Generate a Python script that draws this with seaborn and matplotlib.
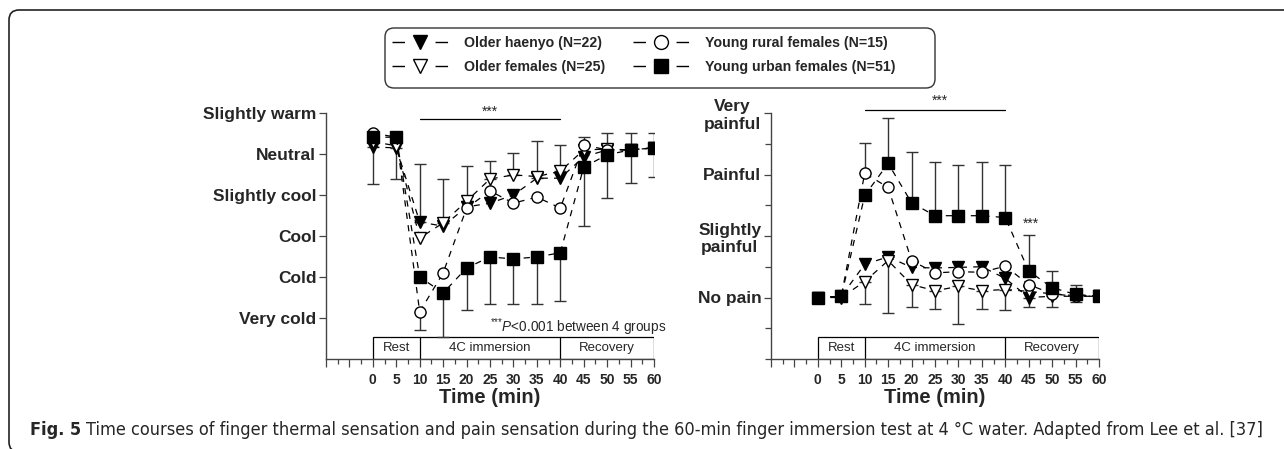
import numpy as np
import pandas as pd
import matplotlib
matplotlib.use("Agg")
import matplotlib.pyplot as plt
import seaborn as sns
from matplotlib.lines import Line2D
from matplotlib.patches import Rectangle, FancyBboxPatch
from matplotlib.transforms import IdentityTransform
from matplotlib.ticker import MultipleLocator, FuncFormatter

# --- data (time in min, scores on each scale) ---
times = [0, 5, 10, 15, 20, 25, 30, 35, 40, 45, 50, 55, 60]
groups = ["Older haenyo (N=22)", "Older females (N=25)",
          "Young rural females (N=15)", "Young urban females (N=51)"]

# thermal sensation: 0=Very cold ... 5=Slightly warm
thermal_haenyo = [4.17, 4.15, 2.34, 2.24, 2.71, 2.80, 3.00, 3.41, 3.41, 3.93, 4.10, 4.10, 4.15]
thermal_older = [4.30, 4.20, 1.95, 2.32, 2.85, 3.39, 3.49, 3.45, 3.58, 4.10, 4.12, 4.10, 4.15]
thermal_rural = [4.51, 4.41, 0.15, 1.10, 2.68, 3.10, 2.80, 2.95, 2.68, 4.22, 4.10, 4.10, 4.15]
thermal_urban = [4.41, 4.41, 1.00, 0.61, 1.22, 1.49, 1.44, 1.49, 1.59, 3.68, 3.98, 4.10, 4.15]
nan = np.nan
thermal_up = {
    "Older haenyo (N=22)": [nan, nan, 1.42, nan, nan, nan, nan, 0.91, nan, nan, nan, nan, nan],
    "Older females (N=25)": [nan, nan, nan, 1.07, 0.86, 0.44, 0.53, nan, 0.64, nan, nan, nan, nan],
    "Young rural females (N=15)": [nan, nan, nan, nan, nan, nan, nan, nan, nan, 0.19, 0.41, 0.41, 0.36],
}
thermal_dn = {
    "Older haenyo (N=22)": [0.90, 0.76, nan, nan, nan, nan, nan, nan, nan, nan, nan, nan, nan],
    "Young rural females (N=15)": [nan, nan, 0.45, nan, nan, nan, nan, nan, nan, nan, nan, nan, nan],
    "Young urban females (N=51)": [nan, nan, nan, 1.07, 1.02, 1.15, 1.10, 1.15, 1.18, 1.44, 1.05, 0.81, 0.71],
}
thermal_labels = ["Very cold", "Cold", "Cool", "Slightly cool", "Neutral", "Slightly warm"]

# pain sensation: 0=No pain ... 3=Very painful
pain_haenyo = [0.00, 0.02, 0.54, 0.66, 0.49, 0.48, 0.49, 0.50, 0.31, 0.00, 0.02, 0.02, 0.02]
pain_older = [0.00, 0.00, 0.26, 0.60, 0.21, 0.11, 0.18, 0.11, 0.13, 0.10, 0.06, 0.03, 0.02]
pain_rural = [0.00, 0.02, 2.02, 1.79, 0.60, 0.40, 0.42, 0.41, 0.51, 0.21, 0.06, 0.02, 0.02]
pain_urban = [0.00, 0.02, 1.66, 2.18, 1.54, 1.33, 1.33, 1.33, 1.30, 0.43, 0.16, 0.05, 0.02]
pain_up = {
    "Young rural females (N=15)": [nan, nan, 0.50, nan, nan, nan, nan, nan, nan, nan, nan, nan, nan],
    "Young urban females (N=51)": [nan, nan, nan, 0.74, 0.82, 0.87, 0.82, 0.87, 0.85, 0.59, 0.27, 0.16, 0.11],
}
pain_dn = {
    "Older haenyo (N=22)": [nan, nan, nan, 0.91, nan, nan, nan, nan, nan, 0.16, 0.18, 0.10, nan],
    "Older females (N=25)": [nan, nan, 0.36, nan, 0.37, 0.29, 0.61, 0.29, 0.34, nan, nan, nan, nan],
}
pain_labels = ["No pain", "Slightly\npainful", "Painful", "Very\npainful"]

phases = ["Rest", "4C immersion", "Recovery"]
phase_edges = [0, 10, 40, 60]

# --- style ---
sns.set_theme(style="ticks")
plt.rcParams["font.family"] = ["Liberation Sans", "DejaVu Sans"]
plt.rcParams["mathtext.fontset"] = "custom"
plt.rcParams["mathtext.rm"] = "Liberation Sans"
plt.rcParams["mathtext.it"] = "Liberation Sans:italic"

marker_of = dict(zip(groups, ["v", "v", "o", "s"]))
face_of = dict(zip(groups, ["black", "white", "white", "black"]))
dash = (0, (5, 5))

fig = plt.figure(figsize=(12.84, 4.49), dpi=100)
W, H = 1284, 449
ax1 = fig.add_axes([326 / W, 1 - 359 / H, 328 / W, 246 / H])
ax2 = fig.add_axes([771 / W, 1 - 359 / H, 328 / W, 246 / H])


def draw_panel(ax, table, up, dn):
    for g in groups:
        y = np.array(table[g], dtype=float)
        t = np.array(times, dtype=float)
        for errs, side in ((up, "up"), (dn, "dn")):
            if g not in errs:
                continue
            e = np.array(errs[g], dtype=float)
            m = ~np.isnan(e)
            yerr = [np.zeros(m.sum()), e[m]] if side == "up" else [e[m], np.zeros(m.sum())]
            ax.errorbar(t[m], y[m], yerr=yerr, fmt="none", ecolor="#333333",
                        elinewidth=1.0, capsize=4, capthick=1.0, zorder=2)
        sns.lineplot(x=times, y=table[g], ax=ax, color="black", marker=marker_of[g],
                     markerfacecolor=face_of[g], markeredgecolor="black",
                     markeredgewidth=1.0, markersize=8, linestyle=dash,
                     linewidth=0.9, errorbar=None, legend=False, zorder=3)


def style_axis(ax):
    sns.despine(ax=ax)
    for s in ("left", "bottom"):
        ax.spines[s].set_color("#444444")
        ax.spines[s].set_linewidth(1.0)
    ax.set_xlim(-10, 60)
    ax.xaxis.set_major_locator(MultipleLocator(5))
    ax.xaxis.set_minor_locator(MultipleLocator(2.5))
    ax.xaxis.set_major_formatter(FuncFormatter(lambda v, _: f"{int(v)}" if v >= 0 else ""))
    ax.tick_params(axis="x", which="major", length=6, width=0.9, color="#444444",
                   labelsize=10, pad=4)
    ax.tick_params(axis="x", which="minor", length=3.5, width=0.9, color="#444444")
    ax.tick_params(axis="y", which="major", length=5, width=0.9, color="#444444",
                   labelsize=12.5, pad=2)
    ax.tick_params(axis="y", which="minor", length=4, width=0.9, color="#444444")
    for lab in ax.get_xticklabels() + ax.get_yticklabels():
        lab.set_fontweight("bold")
    ax.set_xlabel("Time (min)", fontsize=14.5, fontweight="bold", labelpad=1)
    ax.set_ylabel("")
    # phase band along the time axis
    tr = ax.get_xaxis_transform()
    ax.add_patch(Rectangle((phase_edges[0], 0), phase_edges[-1] - phase_edges[0], 22 / 246,
                           transform=tr, fill=False, edgecolor="black", lw=0.9, zorder=1))
    for x in phase_edges[1:-1]:
        ax.plot([x, x], [0, 22 / 246], transform=tr, color="black", lw=0.9, zorder=1)
    for name, a, b in zip(phases, phase_edges[:-1], phase_edges[1:]):
        ax.text((a + b) / 2, 11 / 246, name, transform=tr, ha="center", va="center",
                fontsize=9.5)


# left: thermal sensation
thermal = dict(zip(groups, [thermal_haenyo, thermal_older, thermal_rural, thermal_urban]))
draw_panel(ax1, thermal, thermal_up, thermal_dn)
ax1.set_ylim(-1, 5)
ax1.set_yticks(range(len(thermal_labels)))
ax1.set_yticklabels(thermal_labels)
style_axis(ax1)
ax1.plot([10, 40], [4.85, 4.85], color="black", lw=0.9, clip_on=False)
ax1.text(25, 4.87, "***", ha="center", va="bottom", fontsize=10)
ax1.text(62.6, -0.22, r"$^{{*}{*}{*}}\mathit{P}$<0.001 between 4 groups", ha="right",
         va="center", fontsize=9.8, clip_on=False)

# right: pain sensation
pain = dict(zip(groups, [pain_haenyo, pain_older, pain_rural, pain_urban]))
draw_panel(ax2, pain, pain_up, pain_dn)
ax2.set_ylim(-1, 3)
ax2.set_yticks(range(len(pain_labels)))
ax2.set_yticklabels(pain_labels)
ax2.yaxis.set_minor_locator(MultipleLocator(0.5))
style_axis(ax2)
for lab in ax2.get_yticklabels():
    lab.set_multialignment("center")
ax2.plot([10, 40], [3.05, 3.05], color="black", lw=0.9, clip_on=False)
ax2.text(26, 3.08, "***", ha="center", va="bottom", fontsize=10, clip_on=False)
ax2.text(45.5, 1.2, "***", ha="center", va="center", fontsize=10)

# legend spanning both panels (frame drawn separately, it is wider than the entries)
handles = [Line2D([0], [0], color="black", lw=1.0, linestyle=(0, (9, 22)),
                  marker=marker_of[g], markerfacecolor=face_of[g],
                  markeredgecolor="black", markersize=10) for g in groups]
leg = fig.legend(handles, groups, loc="upper left", bbox_to_anchor=(392 / W, 1 - 36 / H),
                 ncol=2, prop={"weight": "bold", "size": 10.2},
                 handlelength=4.0, handletextpad=1.05, columnspacing=2.0,
                 labelspacing=0.7, frameon=False, borderpad=0, borderaxespad=0)
legend_box = FancyBboxPatch((385, H - 88), 550, 60, boxstyle="round,pad=0,rounding_size=9",
                            transform=IdentityTransform(), fill=False,
                            edgecolor="#333333", lw=1.0)
fig.add_artist(legend_box)

# outer figure frame (open to the right)
frame = FancyBboxPatch((9, -3), 1400, 442, boxstyle="round,pad=0,rounding_size=10",
                       transform=IdentityTransform(), fill=False, edgecolor="#222222",
                       lw=1.2)
fig.add_artist(frame)

# caption, sized so it runs to the same right edge as the original
cap_font = ["DejaVu Sans"]
cap_rest = ("Time courses of finger thermal sensation and pain sensation during the 60-min "
            "finger immersion test at 4 °C water. Adapted from Lee et al. [37]")
t1 = fig.text(30 / W, 1 - 430 / H, "Fig. 5", fontsize=10, fontweight="bold",
              family=cap_font, fontstretch="condensed", va="center")
t2 = fig.text(0, 1 - 430 / H, cap_rest, fontsize=10, family=cap_font,
              fontstretch="condensed", va="center")
fig.canvas.draw()
r = fig.canvas.get_renderer()
w1 = t1.get_window_extent(r).width
w2 = t2.get_window_extent(r).width
scale = (1266 - 30 - 5) / (w1 + w2)
t1.set_fontsize(10 * scale)
t2.set_fontsize(10 * scale)
fig.canvas.draw()
bb = t1.get_window_extent(r)
t2.set_x((bb.x1 + 5) / W)

fig.savefig("out.png", dpi=100)
